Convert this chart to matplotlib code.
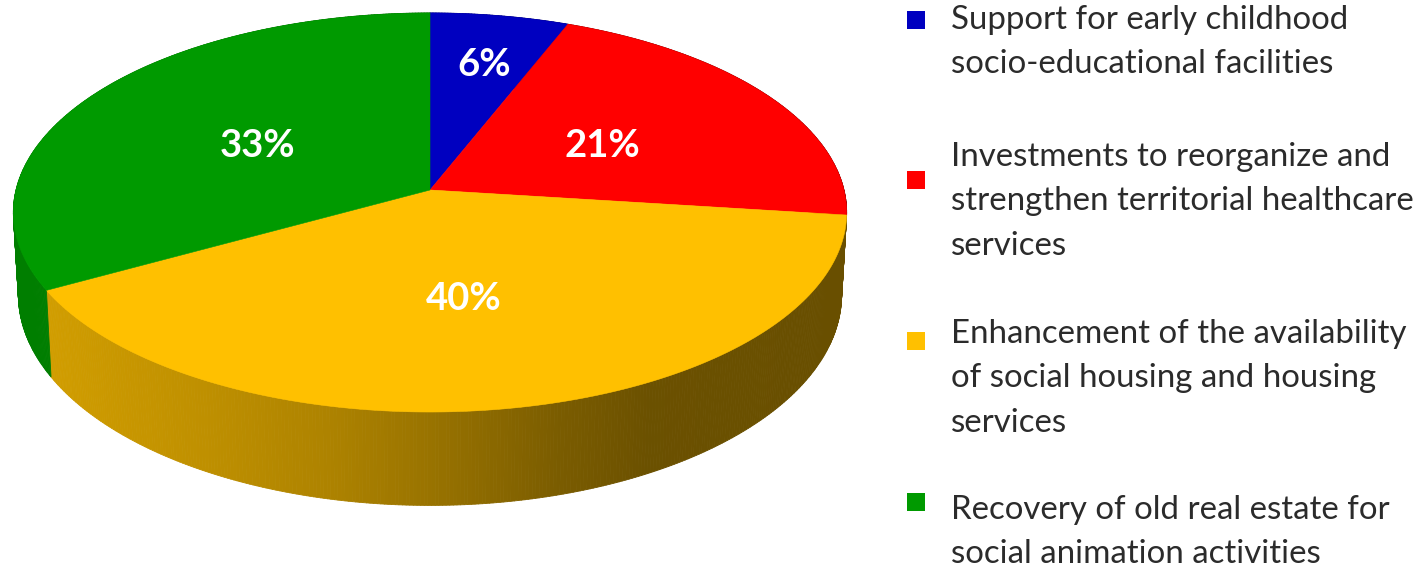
import numpy as np
import matplotlib
matplotlib.use("Agg")
import matplotlib.pyplot as plt
from matplotlib.collections import PolyCollection

# Data
categories = [
    "Support for early childhood\nsocio-educational facilities",
    "Investments to reorganize and\nstrengthen territorial healthcare\nservices",
    "Enhancement of the availability\nof social housing and housing\nservices",
    "Recovery of old real estate for\nsocial animation activities",
]
values = [6, 21, 40, 33]
value_labels = ["6%", "21%", "40%", "33%"]
colors = ["#0000c0", "#ff0000", "#ffc000", "#009a00"]

# Layout (in image pixels)
W, H = 1426, 567
K = 0.1127
TOP = dict(cx=430.0, cy=190.0, a=414.0, b=197.0)
BOT = dict(cx=430.0, cy=271.0, a=409.0, b=208.0)
label_pos = [(484, 65), (602, 146), (464, 299), (258, 146)]
marker_pos = [(915.5, 20), (915.5, 180), (915.5, 341), (915.5, 502)]
text_y = [5, 142, 319, 495]
shade_x = [45, 200, 330, 430, 560, 650, 850]
shade_v = [0.82, 0.75, 0.68, 0.60, 0.48, 0.42, 0.41]


def project(theta, p):
    """Clockwise angle from 12 o'clock on a unit circle -> perspective pixel coords."""
    sx, sy = np.sin(theta), np.cos(theta)
    d = 1 + K * sy
    return p["cx"] + p["a"] * sx / d, p["cy"] - p["b"] * sy / d


fig = plt.figure(figsize=(W / 100, H / 100), dpi=100)
ax = fig.add_axes([0, 0, 1, 1])
ax.set_xlim(0, W)
ax.set_ylim(H, 0)
ax.axis("off")

edges = np.cumsum([0] + values) / np.sum(values) * 2 * np.pi

# Side walls
for i, c in enumerate(colors):
    t = np.linspace(edges[i], edges[i + 1], max(8, int(values[i] * 8)))
    x0, y0 = project(t, TOP)
    x1, y1 = project(t, BOT)
    base = np.array(matplotlib.colors.to_rgb(c))
    polys, cols = [], []
    for j in range(len(t) - 1):
        polys.append([(x0[j], y0[j]), (x0[j + 1], y0[j + 1]), (x1[j + 1], y1[j + 1]), (x1[j], y1[j])])
        cols.append(base * np.interp((x0[j] + x0[j + 1]) / 2, shade_x, shade_v))
    ax.add_collection(PolyCollection(polys, facecolors=cols, edgecolors=cols, linewidths=0.6, zorder=2))

# Top face
for i, c in enumerate(colors):
    t = np.linspace(edges[i], edges[i + 1], 200)
    x, y = project(t, TOP)
    ax.fill(np.r_[TOP["cx"], x], np.r_[TOP["cy"], y], color=c, lw=0.4, zorder=3)

for (x, y), s in zip(label_pos, value_labels):
    ax.text(x, y, s, color="white", fontsize=27.5, fontweight="bold", family="Lato",
            ha="center", va="center", zorder=4)

# Legend
for (x, y), c, s, ty in zip(marker_pos, colors, categories, text_y):
    ax.scatter([x], [y], s=(18 * 0.72) ** 2, marker="s", color=c, linewidths=0, zorder=4)
    ax.text(951, ty, s, color="#2b2b2b", fontsize=23.8, family="Lato",
            ha="left", va="top", linespacing=1.6, zorder=4)

fig.savefig("out.png", dpi=100, facecolor="white")
